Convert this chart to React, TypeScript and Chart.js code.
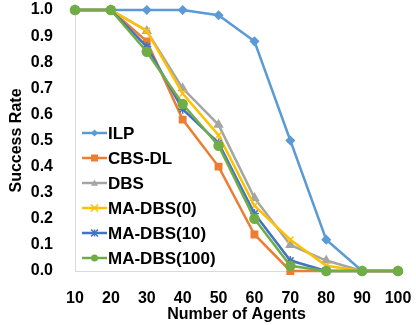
import React, { useEffect, useRef } from "react";
import { Chart, registerables } from "chart.js";

Chart.register(...registerables);

const agents = [10, 20, 30, 40, 50, 60, 70, 80, 90, 100];
const ilp = [1, 1, 1, 1, 0.98, 0.88, 0.5, 0.12, 0, 0];
const cbsDl = [1, 1, 0.88, 0.58, 0.4, 0.14, 0, 0, 0, 0];
const dbs = [1, 1, 0.92, 0.7, 0.56, 0.28, 0.1, 0.04, 0, 0];
const maDbs0 = [1, 1, 0.92, 0.68, 0.52, 0.25, 0.12, 0.02, 0, 0];
const maDbs10 = [1, 1, 0.86, 0.62, 0.49, 0.22, 0.04, 0, 0, 0];
const maDbs100 = [1, 1, 0.84, 0.64, 0.48, 0.2, 0.02, 0, 0, 0];
const seriesNames = ["ILP", "CBS-DL", "DBS", "MA-DBS(0)", "MA-DBS(10)", "MA-DBS(100)"];
const seriesValues = [ilp, cbsDl, dbs, maDbs0, maDbs10, maDbs100];
const seriesColors = ["#5B9BD5", "#ED7D31", "#A5A5A5", "#FFC000", "#4472C4", "#70AD47"];
const seriesMarkers = ["rectRot", "rect", "triangle", "crossRot", "star", "circle"];
const seriesRadii = [4, 4.5, 4.5, 4.5, 4.5, 4.5];

const FONT = "'Liberation Sans', Arial, sans-serif";

function drawMarker(ctx: CanvasRenderingContext2D, style: string, x: number, y: number, r: number, color: string) {
  ctx.save();
  ctx.fillStyle = color;
  ctx.strokeStyle = color;
  ctx.lineWidth = 1.5;
  ctx.beginPath();
  if (style === "rectRot") {
    ctx.moveTo(x, y - r);
    ctx.lineTo(x + r, y);
    ctx.lineTo(x, y + r);
    ctx.lineTo(x - r, y);
    ctx.closePath();
    ctx.fill();
  } else if (style === "rect") {
    ctx.rect(x - r, y - r, 2 * r, 2 * r);
    ctx.fill();
  } else if (style === "triangle") {
    ctx.moveTo(x, y - r);
    ctx.lineTo(x + r, y + r * 0.8);
    ctx.lineTo(x - r, y + r * 0.8);
    ctx.closePath();
    ctx.fill();
  } else if (style === "crossRot") {
    ctx.moveTo(x - r, y - r);
    ctx.lineTo(x + r, y + r);
    ctx.moveTo(x + r, y - r);
    ctx.lineTo(x - r, y + r);
    ctx.stroke();
  } else if (style === "star") {
    ctx.moveTo(x - r, y - r);
    ctx.lineTo(x + r, y + r);
    ctx.moveTo(x + r, y - r);
    ctx.lineTo(x - r, y + r);
    ctx.moveTo(x, y - r);
    ctx.lineTo(x, y + r);
    ctx.stroke();
  } else {
    ctx.arc(x, y, r, 0, Math.PI * 2);
    ctx.fill();
  }
  ctx.restore();
}

const legendPlugin = {
  id: "insideLegend",
  afterDraw(chart: any) {
    const ctx: CanvasRenderingContext2D = chart.ctx;
    const x0 = 82;
    const x1 = 107;
    const y0 = 133;
    const step = 25;
    chart.data.datasets.forEach((ds: any, i: number) => {
      const y = y0 + i * step;
      ctx.save();
      ctx.strokeStyle = ds.borderColor;
      ctx.lineWidth = 2.5;
      ctx.beginPath();
      ctx.moveTo(x0, y);
      ctx.lineTo(x1, y);
      ctx.stroke();
      drawMarker(ctx, ds.pointStyle, (x0 + x1) / 2, y, 3.5, ds.borderColor);
      ctx.fillStyle = "#000";
      ctx.font = `bold 17px ${FONT}`;
      ctx.textBaseline = "middle";
      ctx.textAlign = "left";
      ctx.fillText(ds.label, x1 + 1, y + 1);
      ctx.restore();
    });
  },
};

export default function App() {
  const ref = useRef<HTMLCanvasElement | null>(null);
  useEffect(() => {
    if (!ref.current) return;
    const datasets = seriesNames.map((name, i) => ({
      label: name,
      data: agents.map((a, j) => ({ x: a, y: seriesValues[i][j] })),
      borderColor: seriesColors[i],
      backgroundColor: seriesColors[i],
      borderWidth: 2.5,
      pointStyle: seriesMarkers[i],
      pointRadius: seriesRadii[i],
      pointBorderWidth: 1.5,
      pointBorderColor: seriesColors[i],
      pointBackgroundColor: seriesColors[i],
      tension: 0,
      clip: 8,
      order: seriesNames.length - 1 - i,
    }));
    const chart = new Chart(ref.current, {
      type: "line",
      data: { datasets },
      plugins: [legendPlugin],
      options: {
        animation: false,
        responsive: true,
        maintainAspectRatio: false,
        layout: { autoPadding: false, padding: { top: 10, right: 18, bottom: 0, left: 0 } },
        plugins: { legend: { display: false }, tooltip: { enabled: false } },
        scales: {
          x: {
            type: "linear",
            min: 10,
            max: 100,
            afterFit: (s: any) => {
              s.height = 54;
              s.paddingLeft = 0;
              s.paddingRight = 0;
              s.paddingTop = 0;
              s.paddingBottom = 0;
            },
            ticks: {
              stepSize: 10,
              color: "#000",
              padding: 18,
              maxRotation: 0,
              font: { family: FONT, size: 16, weight: "bold" },
            },
            grid: { display: false, drawTicks: false },
            border: { display: true, color: "#d9d9d9", width: 1 },
            title: {
              display: true,
              text: "Number of Agents",
              color: "#000",
              font: { family: FONT, size: 16, weight: "bold" },
              padding: { top: 0, bottom: 1 },
            },
          },
          y: {
            min: 0,
            max: 1,
            afterFit: (s: any) => {
              s.width = 75;
              s.paddingLeft = 0;
              s.paddingRight = 0;
              s.paddingTop = 0;
              s.paddingBottom = 0;
            },
            ticks: {
              stepSize: 0.1,
              color: "#000",
              padding: 22,
              callback: (v: any) => Number(v).toFixed(1),
              font: { family: FONT, size: 16, weight: "bold" },
            },
            grid: { display: false, drawTicks: false },
            border: { display: true, color: "#d9d9d9", width: 1 },
            title: {
              display: true,
              text: "Success Rate",
              color: "#000",
              font: { family: FONT, size: 16, weight: "bold" },
              padding: { top: 7, bottom: 0 },
            },
          },
        },
      },
    });
    return () => chart.destroy();
  }, []);
  return (
    <div style={{ position: "fixed", left: 0, top: 0, width: 416, height: 325, background: "#fff" }}>
      <canvas ref={ref} />
    </div>
  );
}
